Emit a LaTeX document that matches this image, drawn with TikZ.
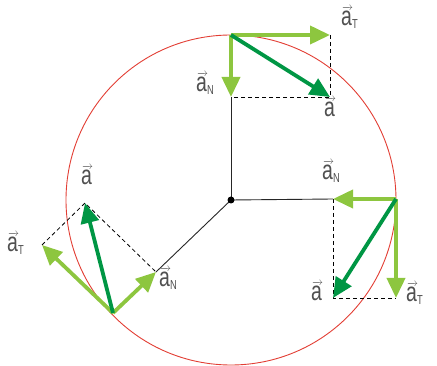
\documentclass[tikz,border=0pt]{standalone}
\usepackage{fontspec}
\setmainfont{Liberation Sans}
\newfontfamily\labfont[FakeStretch=0.72]{Liberation Sans}
\usetikzlibrary{arrows.meta}
\definecolor{lgreen}{RGB}{141,198,63}
\definecolor{dgreen}{RGB}{0,150,68}
\definecolor{redc}{RGB}{226,62,52}
\definecolor{txt}{RGB}{80,80,80}
\newcommand{\veca}{\begingroup\setbox0\hbox{a}\vbox{\offinterlineskip\hbox to\wd0{\hskip1pt\fontsize{11}{11}\selectfont\rightarrowfill\hskip-1pt}\kern0.5pt\box0}\endgroup}
\newcommand{\va}[1]{\veca\raisebox{-0.2ex}{\fontsize{13}{14}\selectfont #1}}
\begin{document}
\begin{tikzpicture}[x=1pt,y=-1pt,
  comp/.style={draw=lgreen,line width=3.8pt,-{Triangle[length=20pt,width=18pt]}},
  res/.style={draw=dgreen,line width=3.8pt,-{Triangle[length=20pt,width=18pt]}},
  dashline/.style={draw=black,line width=0.8pt,dash pattern=on 4pt off 3pt},
  rad/.style={draw=black!85,line width=0.9pt},
  lab/.style={text=txt,font=\labfont\fontsize{27}{30}\selectfont,inner sep=0pt,anchor=base west}]
\useasboundingbox (0,0) rectangle (437,366);
\coordinate (O) at (231,200);
\draw[redc,line width=0.9pt] (O) circle[radius=165];
% top
\coordinate (P1) at (231,35);
\coordinate (T1) at (330,35);
\coordinate (N1) at (231,97);
\coordinate (A1) at (330,97);
% right
\coordinate (P2) at (396,199);
\coordinate (N2) at (333,199);
\coordinate (T2) at (396,298);
\coordinate (A2) at (333,298);
% lower left
\coordinate (P3) at (113,313);
\coordinate (N3) at (156,272);
\coordinate (T3) at (42,245);
\coordinate (A3) at (85,203);
\draw[rad] (O) -- (N1);
\draw[rad] (O) -- (N2);
\draw[rad] (O) -- (N3);
\fill (O) circle[radius=3.5];
\draw[dashline] (T1) -- (A1) -- (N1);
\draw[dashline] (N2) -- (A2) -- (T2);
\draw[dashline] (T3) -- (A3) -- (N3);
\draw[comp] (P1) -- (T1);
\draw[comp] (P1) -- (N1);
\draw[res] (P1) -- (A1);
\draw[comp] (P2) -- (N2);
\draw[comp] (P2) -- (T2);
\draw[res] (P2) -- (A2);
\draw[comp] (P3) -- (T3);
\draw[comp] (P3) -- (N3);
\draw[res] (P3) -- (A3);
\node[lab] (lT1) at (341,26) {\va{T}};
\node[lab] (lN1) at (196,92) {\va{N}};
\node[lab] (lA1) at (324,117) {\veca};
\node[lab] (lN2) at (322,180) {\va{N}};
\node[lab] (lA2) at (311,301) {\veca};
\node[lab] (lT2) at (406,302) {\va{T}};
\node[lab] (lA3) at (81,185) {\veca};
\node[lab] (lT3) at (7,252) {\va{T}};
\node[lab] (lN3) at (159,287) {\va{N}};
\end{tikzpicture}
\end{document}
